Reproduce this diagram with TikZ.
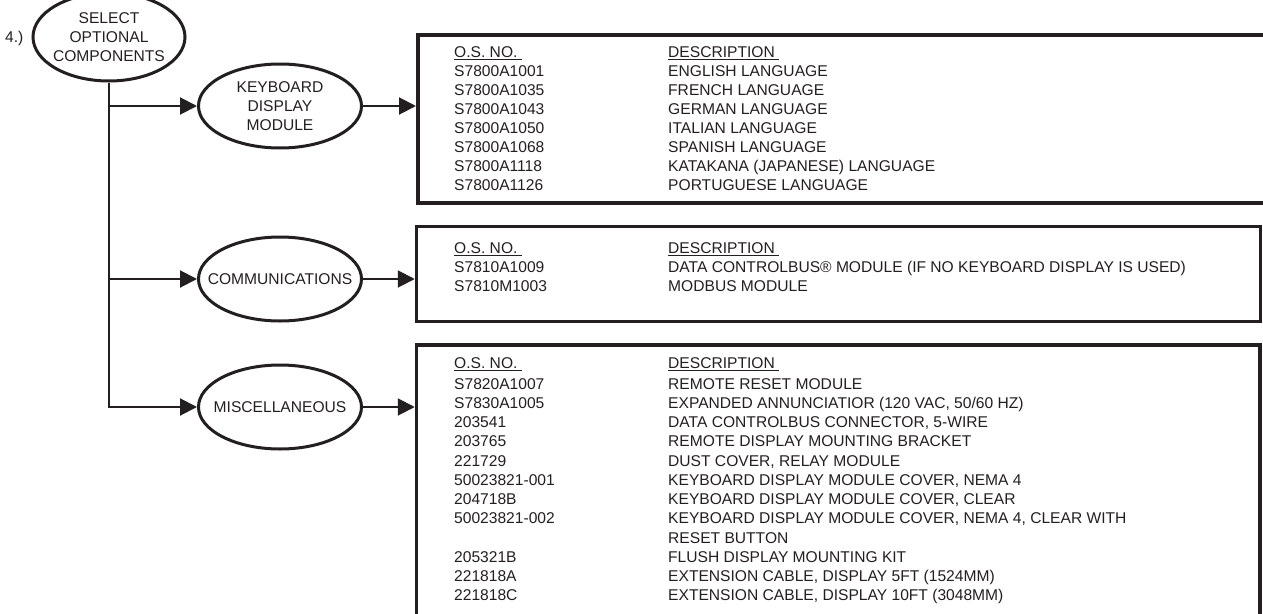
\documentclass[tikz,border=0pt]{standalone}
\usepackage{fontspec}
\setmainfont{Liberation Sans}
\usetikzlibrary{arrows.meta,shapes.geometric}
\definecolor{ink}{HTML}{231F20}
\newcommand\osrow[4]{%
  \node[cell] (#1a) at (454,#2) {#3};
  \node[cell] (#1b) at (668,#2) {#4};}
\newcommand\oshead[2]{%
  \node[cell] (#1a) at (454,#2) {O.S. NO.};
  \node[cell] (#1b) at (668,#2) {DESCRIPTION};
  \draw[ulin] ([yshift=-2.3pt]#1a.base west) -- ([yshift=-2.3pt,xshift=4pt]#1a.base east);
  \draw[ulin] ([yshift=-2.3pt]#1b.base west) -- ([yshift=-2.3pt,xshift=4pt]#1b.base east);}
\begin{document}
\begin{tikzpicture}[x=1pt,y=-1pt,
  every node/.style={font=\fontsize{15.6}{19}\selectfont, text=ink},
  oval/.style={draw=ink, line width=3pt, ellipse, inner sep=0pt, inner xsep=-20pt,
    minimum width=163pt, minimum height=84pt, align=center},
  tbox/.style={draw=ink, rectangle, inner sep=0pt, anchor=north west},
  conn/.style={draw=ink, line width=2pt},
  arr/.style={conn, -{Triangle[length=17pt,width=17pt]}},
  cell/.style={anchor=base west, inner sep=0pt},
  ulin/.style={draw=ink, line width=1.1pt}]
\useasboundingbox (0,0) rectangle (1263,613);
\clip (0,0) rectangle (1263,613);

% ovals
\node[oval, minimum width=152pt, minimum height=88pt] (sel) at (109,37) {SELECT\\OPTIONAL\\COMPONENTS};
\node[cell] (num) at (5,42) {4.)};
\node[oval] (kbd) at (280,106) {KEYBOARD\\DISPLAY\\MODULE};
\node[oval] (comm) at (280,279) {COMMUNICATIONS};
\node[oval] (misc) at (280,407) {MISCELLANEOUS};

% boxes
\node[tbox, line width=4pt, minimum width=872pt, minimum height=168pt] (b1) at (416,33) {};
\node[tbox, line width=3.5pt, minimum width=844pt, minimum height=95pt] (b2) at (414.75,224.75) {};
\node[tbox, line width=3.5pt, minimum width=843.5pt, minimum height=295pt] (b3) at (414.75,343.25) {};

% connectors
\coordinate (j1) at (sel.south |- kbd.west);
\coordinate (j2) at (sel.south |- comm.west);
\coordinate (j3) at (sel.south |- misc.west);
\draw[arr] (sel.south) -- (j3) -- (misc.west);
\draw[arr] (j1) -- (kbd.west);
\draw[arr] (j2) -- (comm.west);
\draw[arr] (kbd.east) -- (kbd.east -| b1.west);
\draw[arr] (comm.east) -- (comm.east -| b2.west);
\draw[arr] (misc.east) -- (misc.east -| b3.west);

% box 1
\oshead{h1}{57.5}
\osrow{r11}{76.5}{S7800A1001}{ENGLISH LANGUAGE}
\osrow{r12}{95.5}{S7800A1035}{FRENCH LANGUAGE}
\osrow{r13}{114.5}{S7800A1043}{GERMAN LANGUAGE}
\osrow{r14}{133.5}{S7800A1050}{ITALIAN LANGUAGE}
\osrow{r15}{152.5}{S7800A1068}{SPANISH LANGUAGE}
\osrow{r16}{171.5}{S7800A1118}{KATAKANA (JAPANESE) LANGUAGE}
\osrow{r17}{190.5}{S7800A1126}{PORTUGUESE LANGUAGE}

% box 2
\oshead{h2}{253.5}
\osrow{r21}{272.5}{S7810A1009}{DATA CONTROLBUS® MODULE (IF NO KEYBOARD DISPLAY IS USED)}
\osrow{r22}{291.5}{S7810M1003}{MODBUS MODULE}

% box 3
\oshead{h3}{368.5}
\osrow{r31}{389}{S7820A1007}{REMOTE RESET MODULE}
\osrow{r32}{408.25}{S7830A1005}{EXPANDED ANNUNCIATIOR (120 VAC, 50/60 HZ)}
\osrow{r33}{427.5}{203541}{DATA CONTROLBUS CONNECTOR, 5-WIRE}
\osrow{r34}{446.75}{203765}{REMOTE DISPLAY MOUNTING BRACKET}
\osrow{r35}{466}{221729}{DUST COVER, RELAY MODULE}
\osrow{r36}{485.25}{50023821-001}{KEYBOARD DISPLAY MODULE COVER, NEMA 4}
\osrow{r37}{504.5}{204718B}{KEYBOARD DISPLAY MODULE COVER, CLEAR}
\osrow{r38}{523.75}{50023821-002}{KEYBOARD DISPLAY MODULE COVER, NEMA 4, CLEAR WITH}
\node[cell] (r39b) at (668,543) {RESET BUTTON};
\osrow{r310}{562.25}{205321B}{FLUSH DISPLAY MOUNTING KIT}
\osrow{r311}{581.5}{221818A}{EXTENSION CABLE, DISPLAY 5FT (1524MM)}
\osrow{r312}{600.75}{221818C}{EXTENSION CABLE, DISPLAY 10FT (3048MM)}
\end{tikzpicture}
\end{document}
